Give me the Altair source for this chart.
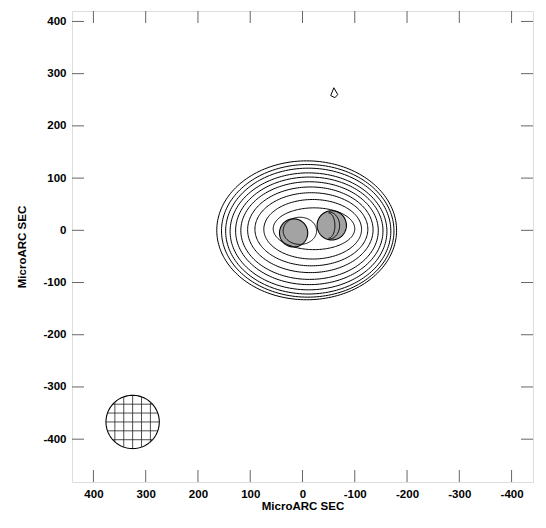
import numpy as np
import pandas as pd
import altair as alt

# ---------------- data (MicroARC SEC) ----------------
# nested contours: centre and semi-axes (x reversed: east to the left)
contour_cx = [-8, -10, -11, -11.5, -13, -13.5, -15, -17, -19.5, -22, 5]
contour_cy = [0, -1, -1.5, -2, -1, -0.5, 1, 2, 2, 3, -1]
contour_a = [172, 165, 158, 150, 141, 131.5, 120, 108, 93.5, 78, 32]
contour_b = [133, 127, 120.5, 112, 103, 93.5, 82, 70, 57, 40, 26]

# partial contours (west halves) crossing the second component
arc_cx = [-50, -50]
arc_cy = [9, 9]
arc_a = [12, 21]
arc_b = [24, 26]

# small isolated contour near (-60, 265)
spot_x = [-60, -54, -62, -67.5, -60]
spot_y = [273, 258, 254, 260, 273]

# model components (grey filled circles)
comp_x = [17, -56]
comp_y = [-5, 9.5]
comp_r = [27, 28]

# restoring beam (hatched circle)
beam_x = 325
beam_y = -367
beam_r = 51
beam_grid = [-34, -17, 0, 17, 34]

tick_values = [400, 300, 200, 100, 0, -100, -200, -300, -400]
x_domain = [441, -441]
y_domain = [-482, 420]
axis_title = "MicroARC SEC"

# ---------------- build tables ----------------
t = np.linspace(0, 2 * np.pi, 181)
rows = []
for i, (cx, cy, a, b) in enumerate(zip(contour_cx, contour_cy, contour_a, contour_b)):
    for k, tt in enumerate(t):
        rows.append({"id": f"c{i}", "order": k, "x": cx + a * np.cos(tt), "y": cy + b * np.sin(tt)})
ta = np.linspace(np.pi / 2, 3 * np.pi / 2, 61)
for i, (cx, cy, a, b) in enumerate(zip(arc_cx, arc_cy, arc_a, arc_b)):
    for k, tt in enumerate(ta):
        rows.append({"id": f"a{i}", "order": k, "x": cx + a * np.cos(tt), "y": cy + b * np.sin(tt)})
for k, (sx, sy) in enumerate(zip(spot_x, spot_y)):
    rows.append({"id": "spot", "order": k, "x": sx, "y": sy})
contours = pd.DataFrame(rows)

fill_rows, out_rows = [], []
th = np.linspace(0, np.pi, 91)
for j, (cx, cy, r) in enumerate(zip(comp_x, comp_y, comp_r)):
    for k, tt in enumerate(th):
        fill_rows.append({"id": f"m{j}", "x": cx + r * np.cos(tt),
                          "y": cy + r * np.sin(tt), "y2": cy - r * np.sin(tt)})
    for k, tt in enumerate(t):
        out_rows.append({"id": f"m{j}", "order": k, "x": cx + r * np.cos(tt), "y": cy + r * np.sin(tt)})
for k, tt in enumerate(t):
    out_rows.append({"id": "beam", "order": k, "x": beam_x + beam_r * np.cos(tt),
                     "y": beam_y + beam_r * np.sin(tt)})
comp_fill = pd.DataFrame(fill_rows)
outlines = pd.DataFrame(out_rows)

vgrid = pd.DataFrame([{"x": beam_x + d,
                       "y": beam_y - np.sqrt(beam_r ** 2 - d ** 2),
                       "y2": beam_y + np.sqrt(beam_r ** 2 - d ** 2)} for d in beam_grid])
hgrid = pd.DataFrame([{"y": beam_y + d,
                       "x": beam_x - np.sqrt(beam_r ** 2 - d ** 2),
                       "x2": beam_x + np.sqrt(beam_r ** 2 - d ** 2)} for d in beam_grid])
ticks = pd.DataFrame({"v": tick_values})

# ---------------- scales / axes ----------------
W, H = 461, 471
FONT = "Liberation Sans"
xs = alt.Scale(domain=x_domain, nice=False, zero=False)
ys = alt.Scale(domain=y_domain, nice=False, zero=False)
xaxis = alt.Axis(values=tick_values, ticks=False, domain=False, grid=False,
                 labelExpr="'' + datum.value", labelFont=FONT, labelFontWeight="bold",
                 labelFontSize=11.5, labelColor="black", labelPadding=6,
                 labelFlush=False, title=axis_title, titleFont=FONT,
                 titleFontWeight="bold", titleFontSize=11.5, titlePadding=1,
                 titleColor="black")
yaxis = alt.Axis(values=tick_values, ticks=False, domain=False, grid=False,
                 labelExpr="'' + datum.value", labelFont=FONT, labelFontWeight="bold",
                 labelFontSize=11.5, labelColor="black", labelPadding=6,
                 labelFlush=False, title=axis_title, titleFont=FONT,
                 titleFontWeight="bold", titleFontSize=11.5, titlePadding=15,
                 titleColor="black")


def X(f="x"):
    return alt.X(f"{f}:Q", scale=xs, axis=xaxis)


def Y(f="y"):
    return alt.Y(f"{f}:Q", scale=ys, axis=yaxis)


fills = alt.Chart(comp_fill).mark_area(color="#a3a3a3", opacity=1, orient="vertical").encode(
    x=X(), y=Y(), y2="y2:Q", detail="id:N")
outl = alt.Chart(outlines).mark_line(color="black", strokeWidth=1.1).encode(
    x=X(), y=Y(), detail="id:N", order="order:Q")
cont = alt.Chart(contours).mark_line(color="black", strokeWidth=1).encode(
    x=X(), y=Y(), detail="id:N", order="order:Q")
vg = alt.Chart(vgrid).mark_rule(color="#222", strokeWidth=0.8).encode(x=X(), y=Y(), y2="y2:Q")
hg = alt.Chart(hgrid).mark_rule(color="#222", strokeWidth=0.8).encode(y=Y(), x=X(), x2="x2:Q")

TC = "#666"
t_top = alt.Chart(ticks).mark_rule(color=TC).encode(
    x=alt.X("v:Q", scale=xs, axis=xaxis), y=alt.value(0), y2=alt.value(12))
t_bot = alt.Chart(ticks).mark_rule(color=TC).encode(
    x=alt.X("v:Q", scale=xs, axis=xaxis), y=alt.value(H), y2=alt.value(H - 12))
t_left = alt.Chart(ticks).mark_rule(color=TC).encode(
    y=alt.Y("v:Q", scale=ys, axis=yaxis), x=alt.value(0), x2=alt.value(12))
t_right = alt.Chart(ticks).mark_rule(color=TC).encode(
    y=alt.Y("v:Q", scale=ys, axis=yaxis), x=alt.value(W), x2=alt.value(W - 12))

chart = alt.layer(fills, outl, cont, vg, hg, t_top, t_bot, t_left, t_right).properties(
    width=W, height=H,
    autosize=alt.AutoSizeParams(type="none"),
    padding={"left": 64, "top": 3, "right": 5, "bottom": 38},
).configure_view(stroke="#666", strokeWidth=1.2).configure(background="white")

chart.save("out.html", embed_options={"renderer": "svg", "actions": False})
